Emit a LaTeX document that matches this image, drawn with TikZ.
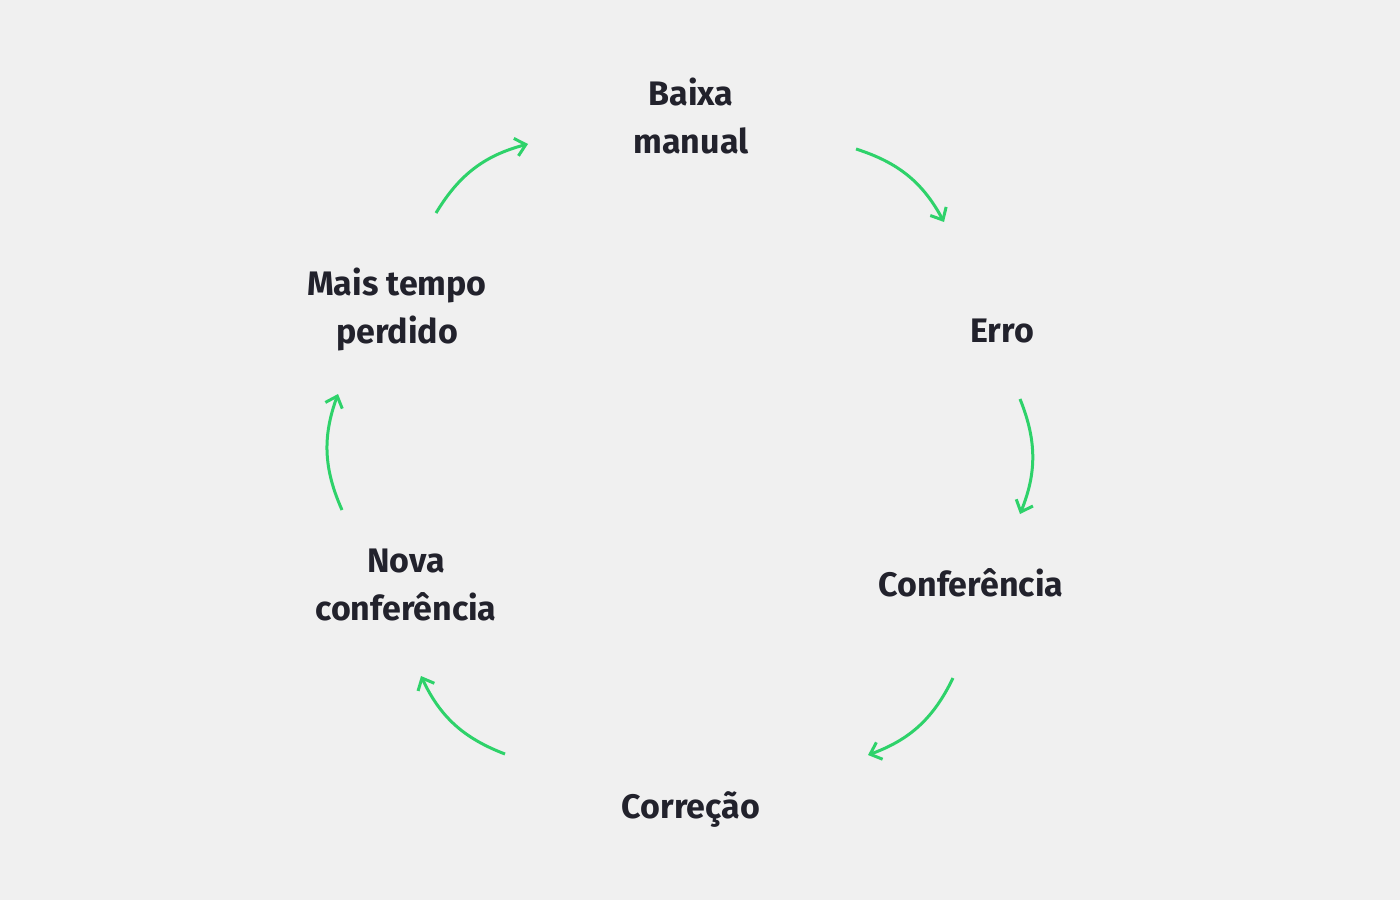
\documentclass[tikz,border=0pt]{standalone}
\usepackage{fontspec}
\setmainfont{Fira Sans}
\usetikzlibrary{arrows.meta}
\definecolor{bg}{HTML}{F0F0F0}
\definecolor{txt}{HTML}{22222C}
\definecolor{grn}{HTML}{2ED26A}
\begin{document}
\begin{tikzpicture}[x=0.5pt,y=-0.5pt,
  lab/.style={text=txt,font=\fontsize{17}{24}\selectfont\bfseries,align=center},
  arr/.style={draw=grn,line width=1.5pt,-{Straight Barb[length=5pt,width=9pt]},bend left=22}]
\fill[bg] (0,0) rectangle (1400,900);
\useasboundingbox (0,0) rectangle (1400,900);
\node[lab] (baixa) at (691,116) {Baixa\\manual};
\node[lab] (erro) at (1002,331) {Erro};
\node[lab] (conf) at (971,583) {Conferência};
\node[lab] (corr) at (691,809) {Correção};
\node[lab] (nova) at (406,585) {Nova\\conferência};
\node[lab] (mais) at (397,309) {Mais tempo\\perdido};
\coordinate (a1) at (856,149); \coordinate (b1) at (944,222);
\coordinate (a2) at (1020,399); \coordinate (b2) at (1020,514);
\coordinate (a3) at (953,678); \coordinate (b3) at (868,755);
\coordinate (a4) at (505,754); \coordinate (b4) at (421,676);
\coordinate (a5) at (342,510); \coordinate (b5) at (338,394);
\coordinate (a6) at (436,213); \coordinate (b6) at (528,144);
\draw[arr] (a1) to (b1);
\draw[arr] (a2) to (b2);
\draw[arr] (a3) to (b3);
\draw[arr] (a4) to (b4);
\draw[arr] (a5) to (b5);
\draw[arr] (a6) to (b6);
\end{tikzpicture}
\end{document}
